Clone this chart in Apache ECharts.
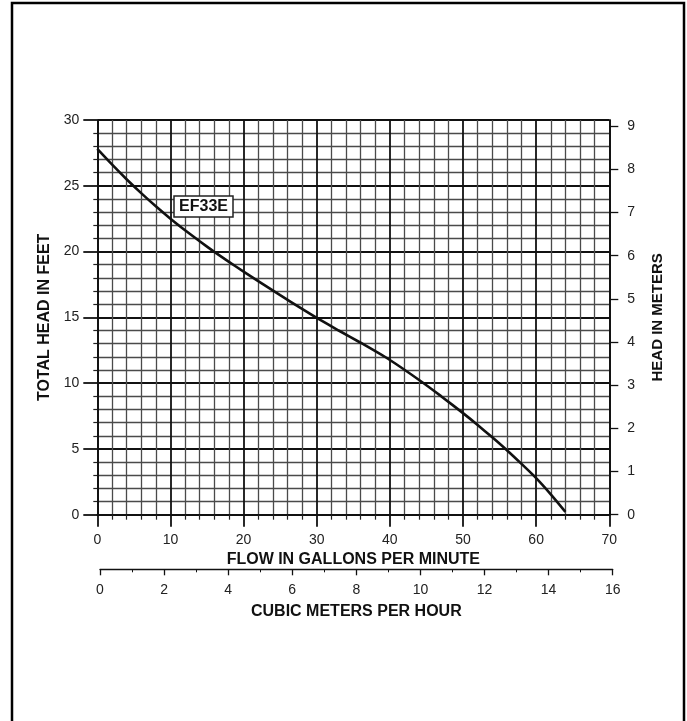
<!DOCTYPE html>
<html><head><meta charset="utf-8">
<script src="https://cdn.jsdelivr.net/npm/echarts@6/dist/echarts.min.js"></script>
<style>html,body{margin:0;padding:0;background:#fff}#c{width:687px;height:721px}</style>
</head><body><div id="c"></div>
<script>
const flowGpm = [0, 2, 4, 6, 8, 10, 12, 14, 16, 18, 20, 22, 25, 28, 30, 33, 36, 40, 44, 47, 50, 52, 54, 56, 58, 60, 62, 64];
const headFt  = [27.8, 26.62, 25.5, 24.44, 23.44, 22.5, 21.62, 20.78, 19.98, 19.22, 18.48, 17.76, 16.69, 15.64, 14.96, 14.0, 13.07, 11.76, 10.24, 9.01, 7.72, 6.82, 5.88, 4.9, 3.86, 2.78, 1.55, 0.22];
const meterTicks = [0,1,2,3,4,5,6,7,8,9];
const modelName = 'EF33E';
const FT_PER_M = 3.28084;

const chart = echarts.init(document.getElementById('c'));
const font = 'Liberation Sans, Arial, sans-serif';
const lbl = {color:'#222', fontSize:14, fontFamily:font};
const nameStyle = {color:'#111', fontSize:16, fontWeight:'bold', fontFamily:font};
chart.setOption({
  animation:false,
  backgroundColor:'#fff',
  grid:[
    {left:97.3, right:77.7, top:120, bottom:206.3},
    {left:100, right:74.3, top:540, bottom:151.7}
  ],
  xAxis:[
    {type:'value', gridIndex:0, min:0, max:70, interval:10,
     name:'FLOW IN GALLONS PER MINUTE', nameLocation:'middle', nameGap:36, nameTextStyle:nameStyle,
     axisLine:{show:true, lineStyle:{color:'#111', width:1.8}},
     axisTick:{show:true, length:12, lineStyle:{color:'#111', width:1.8}},
     minorTick:{show:true, splitNumber:5, length:5, lineStyle:{color:'#222', width:1.2}},
     axisLabel:Object.assign({margin:18}, lbl),
     splitLine:{show:true, lineStyle:{color:'#111', width:1.8}},
     minorSplitLine:{show:true, lineStyle:{color:'#4a4a4a', width:1.3}}},
    {type:'value', gridIndex:1, min:0, max:16, interval:2, position:'bottom',
     name:'CUBIC METERS PER HOUR', nameLocation:'middle', nameGap:34, nameTextStyle:nameStyle,
     axisLine:{show:true, lineStyle:{color:'#111', width:1.3}},
     axisTick:{show:true, length:6, lineStyle:{color:'#111', width:1.3}},
     minorTick:{show:true, splitNumber:2, length:3, lineStyle:{color:'#111', width:1}},
     axisLabel:Object.assign({margin:14}, lbl),
     splitLine:{show:false}}
  ],
  yAxis:[
    {type:'value', gridIndex:0, min:0, max:30, interval:5,
     name:'TOTAL HEAD IN FEET', nameLocation:'middle', nameGap:42, nameRotate:90, nameTextStyle:nameStyle,
     axisLine:{show:true, lineStyle:{color:'#111', width:1.8}},
     axisTick:{show:true, length:14, lineStyle:{color:'#111', width:1.8}},
     minorTick:{show:true, splitNumber:5, length:4, lineStyle:{color:'#222', width:1.2}},
     axisLabel:Object.assign({margin:18}, lbl),
     splitLine:{show:true, lineStyle:{color:'#111', width:1.8}},
     minorSplitLine:{show:true, lineStyle:{color:'#4a4a4a', width:1.3}}},
    {type:'value', gridIndex:0, position:'right', min:0, max:30/FT_PER_M,
     name:'HEAD IN METERS', nameLocation:'middle', nameGap:41, nameRotate:90,
     nameTextStyle:Object.assign({}, nameStyle, {fontSize:15}),
     axisLine:{show:true, lineStyle:{color:'#111', width:1.8}},
     axisTick:{show:true, length:9, customValues:meterTicks, lineStyle:{color:'#111', width:1.3}},
     axisLabel:Object.assign({margin:18, customValues:meterTicks}, lbl),
     splitLine:{show:false}},
    {type:'value', gridIndex:1, show:false, min:0, max:1}
  ],
  series:[
    {type:'line', xAxisIndex:0, yAxisIndex:0, smooth:0.2, symbol:'none',
     lineStyle:{color:'#111', width:2.6},
     data: flowGpm.map((x,i)=>[x, headFt[i]]), z:5}
  ],
  graphic:[
    {type:'rect', shape:{x:12, y:3, width:672, height:740}, style:{fill:'none', stroke:'#000', lineWidth:2.5}, silent:true},
    {type:'rect', shape:{x:174, y:196, width:59, height:21}, style:{fill:'#fff', stroke:'#222', lineWidth:1.5}, z:10},
    {type:'text', x:203.5, y:207, style:{text:modelName, fill:'#111', font:'bold 16px '+font, align:'center', verticalAlign:'middle'}, z:11}
  ]
});
</script></body></html>
